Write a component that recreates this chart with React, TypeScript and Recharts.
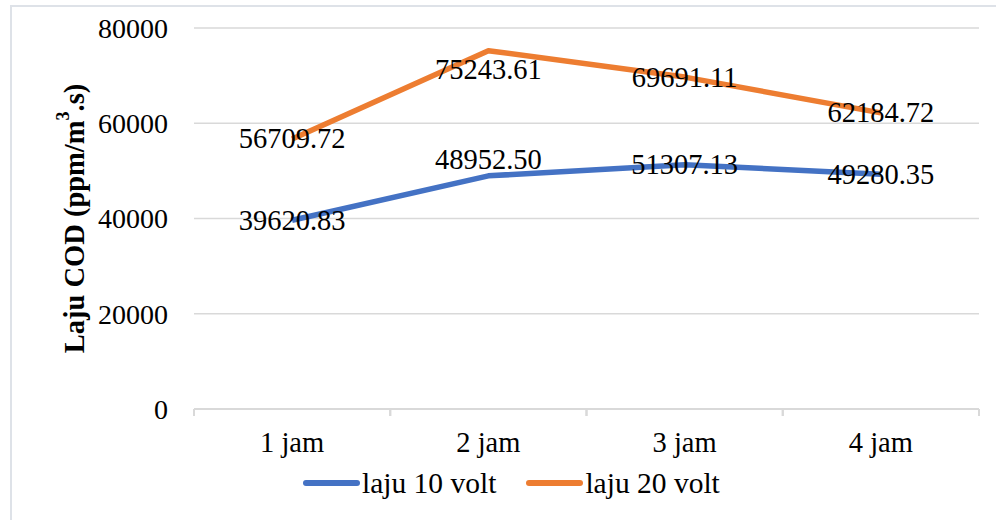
import { CartesianGrid, LabelList, Line, LineChart, XAxis, YAxis } from 'recharts';

const categories = ['1 jam', '2 jam', '3 jam', '4 jam'];
const laju10 = [39620.83, 48952.5, 51307.13, 49280.35];
const laju20 = [56709.72, 75243.61, 69691.11, 62184.72];
const yTicks = [0, 20000, 40000, 60000, 80000];
const seriesNames = ['laju 10 volt', 'laju 20 volt'];

// vertical nudges of the data labels (Excel "best fit" placement)
const labelShift10 = [0, -16, 0, 0];
const labelShift20 = [0, 19, 0, 0];

const data = categories.map((c, i) => ({ name: c, v10: laju10[i], v20: laju20[i] }));

const FONT = '"Liberation Serif", "Times New Roman", serif';
const BLUE = '#4472C4';
const ORANGE = '#ED7D31';
const GRID = '#D9D9D9';

const W = 996;
const H = 520;
const PLOT_LEFT = 194;
const PLOT_RIGHT = 979;
const PLOT_TOP = 28;
const PLOT_BOTTOM = 409;
const BAND = (PLOT_RIGHT - PLOT_LEFT) / categories.length;

const CategoryTick = (props: any) => {
  const { x, y, payload } = props;
  return (
    <g>
      <line x1={x - BAND / 2} x2={x - BAND / 2} y1={y} y2={y + 7} stroke={GRID} strokeWidth={2} />
      <line x1={x + BAND / 2} x2={x + BAND / 2} y1={y} y2={y + 7} stroke={GRID} strokeWidth={2} />
      <text x={x} y={y + 23} dy="0.71em" textAnchor="middle" fontFamily={FONT} fontSize={28.5} fill="#000">
        {payload.value}
      </text>
    </g>
  );
};

const makeLabel = (shifts: number[]) => (props: any) => {
  const { x, y, value, index } = props;
  return (
    <text
      x={x}
      y={y + shifts[index]}
      textAnchor="middle"
      dominantBaseline="central"
      fontFamily={FONT}
      fontSize={28.5}
      fill="#000"
    >
      {Number(value).toFixed(2)}
    </text>
  );
};

const LegendItem = ({ color, label }: { color: string; label: string }) => (
  <div style={{ display: 'flex', alignItems: 'center', marginRight: 30 }}>
    <div style={{ width: 57, height: 6, borderRadius: 3, background: color, marginRight: 2 }} />
    <span style={{ fontFamily: FONT, fontSize: 29.5, color: '#000', lineHeight: '30px' }}>{label}</span>
  </div>
);

export default function App() {
  return (
    <div style={{ position: 'absolute', left: 0, top: 0, width: W, height: H, background: '#fff', overflow: 'hidden' }}>
      <div
        style={{
          position: 'absolute',
          left: 10,
          top: 5,
          width: W,
          height: H,
          border: '2px solid #DEE2E8',
          boxSizing: 'border-box',
        }}
      />
      <div style={{ position: 'absolute', left: 0, top: 0 }}>
        <LineChart
          width={W}
          height={H}
          data={data}
          margin={{ top: PLOT_TOP, right: W - PLOT_RIGHT, bottom: H - PLOT_BOTTOM - 40, left: 0 }}
        >
          <CartesianGrid vertical={false} stroke={GRID} strokeWidth={1.5} />
          <XAxis
            dataKey="name"
            height={40}
            padding={{ left: BAND / 2, right: BAND / 2 }}
            axisLine={{ stroke: GRID, strokeWidth: 2 }}
            tickLine={false}
            tickSize={0}
            tickMargin={0}
            tick={<CategoryTick />}
            interval={0}
          />
          <YAxis
            width={PLOT_LEFT}
            domain={[0, 80000]}
            ticks={yTicks}
            axisLine={false}
            tickLine={false}
            tickSize={0}
            tickMargin={26}
            tick={{ fontFamily: FONT, fontSize: 28, fill: '#000' }}
            label={(p: any) => {
              const cx = 74;
              const cy = (PLOT_TOP + PLOT_BOTTOM) / 2;
              return (
                <text
                  x={cx}
                  y={cy}
                  transform={`rotate(-90 ${cx} ${cy})`}
                  textAnchor="middle"
                  dominantBaseline="central"
                  fontFamily={FONT}
                  fontSize={28.5}
                  fontWeight="bold"
                  fill="#000"
                >
                  Laju COD (ppm/m<tspan fontSize={18} dy={-11}>3</tspan>
                  <tspan dy={11}>.s)</tspan>
                </text>
              );
            }}
          />
          <Line
            dataKey="v10"
            stroke={BLUE}
            strokeWidth={5.5}
            dot={false}
            strokeLinejoin="round"
            isAnimationActive={false}
          >
            <LabelList dataKey="v10" content={makeLabel(labelShift10)} />
          </Line>
          <Line
            dataKey="v20"
            stroke={ORANGE}
            strokeWidth={5.5}
            dot={false}
            strokeLinejoin="round"
            isAnimationActive={false}
          >
            <LabelList dataKey="v20" content={makeLabel(labelShift20)} />
          </Line>
        </LineChart>
      </div>
      <div style={{ position: 'absolute', left: 303, top: 468, display: 'flex' }}>
        <LegendItem color={BLUE} label={seriesNames[0]} />
        <LegendItem color={ORANGE} label={seriesNames[1]} />
      </div>
    </div>
  );
}
